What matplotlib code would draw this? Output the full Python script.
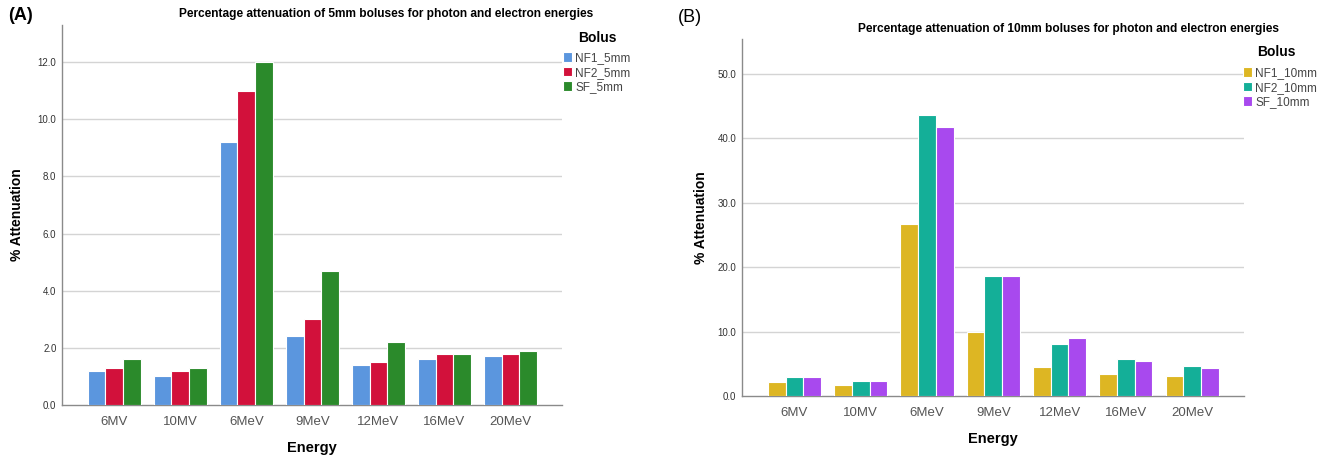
import matplotlib
matplotlib.use("Agg")
import matplotlib.pyplot as plt
import numpy as np

plt.rcParams['font.family'] = ['Liberation Sans', 'DejaVu Sans']

energies = ["6MV", "10MV", "6MeV", "9MeV", "12MeV", "16MeV", "20MeV"]

series_a_names = ["NF1_5mm", "NF2_5mm", "SF_5mm"]
nf1_5mm = [1.2, 1.0, 9.2, 2.4, 1.4, 1.6, 1.7]
nf2_5mm = [1.3, 1.2, 11.0, 3.0, 1.5, 1.8, 1.8]
sf_5mm = [1.6, 1.3, 12.0, 4.7, 2.2, 1.8, 1.9]

series_b_names = ["NF1_10mm", "NF2_10mm", "SF_10mm"]
nf1_10mm = [2.1, 1.7, 26.7, 10.0, 4.5, 3.4, 3.1]
nf2_10mm = [2.9, 2.3, 43.6, 18.6, 8.0, 5.7, 4.6]
sf_10mm = [2.9, 2.3, 41.7, 18.6, 9.0, 5.4, 4.4]

colors_a = ["#5B96DE", "#D2113B", "#2B8A2B"]
colors_b = ["#DDB623", "#14AF98", "#A849EE"]

W, H = 1329, 457
fig = plt.figure(figsize=(W / 100, H / 100), dpi=100)


def panel(rect, series, names, colors, ymax, yticks, title, title_xy,
          legend_xy, bolus_xy, xlabel_y, ylabel_x):
    ax = fig.add_axes(rect)
    x = np.arange(len(energies))
    bw = 0.8 / 3
    handles = []
    for i, (vals, c) in enumerate(zip(series, colors)):
        b = ax.bar(x + (i - 1) * bw, vals, width=bw, color=c, edgecolor="white",
                   linewidth=0.8, zorder=3)
        handles.append(b)
    ax.set_xlim(-0.79, len(energies) - 1 + 0.78)
    ax.set_ylim(0, ymax)
    ax.set_yticks(yticks)
    ax.set_yticklabels([f"{v:.1f}" for v in yticks], fontsize=7, color="#333333")
    ax.set_xticks(x)
    ax.set_xticklabels(energies, fontsize=9.5, color="#555555")
    ax.tick_params(axis="both", length=0)
    ax.tick_params(axis="x", pad=8)
    ax.tick_params(axis="y", pad=4)
    for yv in yticks[1:]:
        ax.axhline(yv, color="#D4D4D4", linewidth=1.0, zorder=1)
    for s in ["top", "right"]:
        ax.spines[s].set_visible(False)
    for s in ["left", "bottom"]:
        ax.spines[s].set_color("#8A8A8A")
        ax.spines[s].set_linewidth(1.0)
    ax.set_xlabel("Energy", fontsize=10.5, fontweight="bold", va="center")
    ax.set_ylabel("% Attenuation", fontsize=10, fontweight="bold", va="center")
    ax.xaxis.set_label_coords(0.5, xlabel_y)
    ax.yaxis.set_label_coords(ylabel_x, 0.5)
    fig.text(title_xy[0] / W, 1 - title_xy[1] / H, title, fontsize=8.6,
             fontweight="bold", ha="center", va="center")
    fig.text(bolus_xy[0] / W, 1 - bolus_xy[1] / H, "Bolus", fontsize=10,
             fontweight="bold", ha="center", va="center")
    leg = fig.legend(handles, names, loc="upper left",
                     bbox_to_anchor=(legend_xy[0] / W, 1 - legend_xy[1] / H),
                     frameon=False, fontsize=8.5,
                     handlelength=0.8, handleheight=0.9, handletextpad=0.25,
                     labelspacing=0.22, borderpad=0, borderaxespad=0)
    for t in leg.get_texts():
        t.set_color("#444444")
    return ax


panel([62 / W, 1 - 405 / H, 500 / W, 380 / H],
      [nf1_5mm, nf2_5mm, sf_5mm], series_a_names, colors_a, 13.3,
      [0, 2, 4, 6, 8, 10, 12],
      "Percentage attenuation of 5mm boluses for photon and electron energies",
      (386, 14), (563, 52), (597, 38), -0.114, -0.09)

panel([742 / W, 1 - 396 / H, 502 / W, 357 / H],
      [nf1_10mm, nf2_10mm, sf_10mm], series_b_names, colors_b, 55.4,
      [0, 10, 20, 30, 40, 50],
      "Percentage attenuation of 10mm boluses for photon and electron energies",
      (1069, 29), (1243, 67), (1276, 52), -0.12, -0.082)

fig.text(8 / W, 1 - 16 / H, "(A)", fontsize=13, fontweight="bold", ha="left", va="center")
fig.text(678 / W, 1 - 18 / H, "(B)", fontsize=13, ha="left", va="center")

fig.savefig("out.png", dpi=100)
